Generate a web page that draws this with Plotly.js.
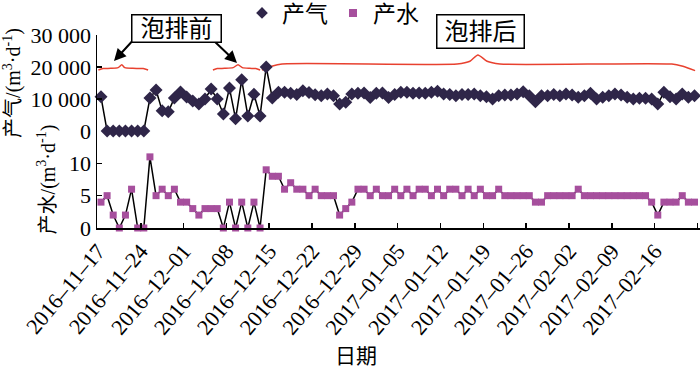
<!DOCTYPE html>
<html><head><meta charset="utf-8">
<script src="https://cdn.plot.ly/plotly-3.0.1.min.js"></script>
<style>html,body{margin:0;padding:0;background:#fff}#chart{width:700px;height:378px}</style>
</head><body><div id="chart"></div>
<script>
// daily series starting 2016-11-17
const startDate = [2016, 10, 17];
const gas = [10700, 0, 0, 0, 0, 0, 0, 0,
  10300, 12800, 6300, 6000, 10300, 12200, 10600, 9400, 8400, 10000, 13100, 10000, 5300, 13400, 3800, 16000, 4700, 11500, 4700, 20000, 10300,
  12100, 12100, 11800, 11400, 12600, 12000, 11300, 11000, 11600, 11000, 8400, 9000, 11600, 11800, 11900, 10500, 11800, 11900, 10500, 11400, 12100, 12100, 11800, 11900, 11800, 12100, 12400, 11600, 11400, 11000, 11400,
  11400, 11600, 11040, 10730, 10000, 11040, 11250, 11250, 11560, 12290, 11040, 9170, 11040, 11040, 11400, 11040, 11560, 11250, 10520, 11040, 11770, 10000, 10520, 11040, 11560, 11250, 10520, 10000, 10210, 10210, 10000, 8440, 12080, 10730, 10000, 11560, 10520, 11040];
const water = [4, 5, 2, 0, 2, 6, 0, 0, 11, 5,
  6, 5, 6, 4, 4, 3, 2, 3, 3, 3,
  0, 4, 0, 4, 0, 4, 0, 9, 8, 8,
  6, 7, 6, 6, 5, 6, 5, 5, 5, 2,
  3, 4, 6, 6, 5, 6, 5, 5, 6, 5,
  6, 5, 6, 6, 5, 6, 5, 6, 6, 5,
  6, 5, 6, 5, 5, 6, 5, 5, 5, 5,
  5, 4, 4, 5, 5, 5, 5, 5, 6, 5,
  5, 5, 5, 5, 5, 5, 5, 5, 5, 5,
  4, 2, 4, 4, 4, 5, 4, 4];
const gasTickVals = [0, 10000, 20000, 30000];
const gasTickText = ['0', '10 000', '20 000', '30 000'];
const waterTickVals = [0, 5, 10];
const waterTickText = ['0', '5', '10'];
// curly braces marking the periods (day offsets from start, values on gas axis)
const braceDays = [0.07, 0.83, 2.1, 3.3, 3.9, 4.4, 5.7, 7.4, 8.2, null,
  18.8, 19.5, 20.7, 22.1, 22.9, 23.6, 24.8, 25.8, 26.5, null,
  26.8, 28.4, 30.1, 58.7, 60.8, 62.1, 63.6, 65.7, 93.8, 95.6, 97.6];
const braceVals = [19040, 19510, 19580, 19800, 20700, 19800, 19580, 19510, 19040, null,
  19040, 19510, 19580, 19800, 20700, 19800, 19580, 19510, 19040, null,
  19040, 20210, 20940, 20940, 21790, 23780, 21790, 20940, 20940, 20210, 18880];

function dayToDate(d) {
  const t = Date.UTC(startDate[0], startDate[1], startDate[2]) + d * 86400000;
  return new Date(t).toISOString().slice(0, 19).replace('T', ' ');
}
const dates = gas.map((_, i) => dayToDate(i + 0.5));
const braceX = braceDays.map(d => d === null ? null : dayToDate(d));

const serif = "'Liberation Serif', 'Times New Roman', 'Noto Sans CJK SC', serif";
const gasColor = '#2f2649';
const waterColor = '#a64f9d';

const traces = [
  {x: braceX, y: braceVals, xaxis: 'x', yaxis: 'y', mode: 'lines', line: {color: '#e8412f', width: 1.5, shape: 'spline', smoothing: 0.6},
   connectgaps: false, showlegend: false, hoverinfo: 'skip', cliponaxis: false},
  {x: dates, y: gas, xaxis: 'x', yaxis: 'y', mode: 'lines+markers', name: '产气', showlegend: false,
   line: {color: '#000', width: 1.5}, marker: {symbol: 'diamond', size: 10, color: gasColor}, cliponaxis: false},
  {x: dates, y: water, xaxis: 'x', yaxis: 'y2', mode: 'lines+markers', name: '产水', showlegend: false,
   line: {color: '#000', width: 1.5}, marker: {symbol: 'square', size: 7, color: waterColor}, cliponaxis: false},
  {x: [null], y: [null], xaxis: 'x', yaxis: 'y', mode: 'markers', name: '产气', marker: {symbol: 'diamond', size: 9, color: gasColor}},
  {x: [null], y: [null], xaxis: 'x', yaxis: 'y', mode: 'markers', name: '产水', marker: {symbol: 'square', size: 8, color: waterColor}}
];

const L = 97, T = 35, W = 603, H = 193;
const px = v => (v - L) / W;
const py = v => (T + H - v) / H;

const arrowStyle = {xref: 'paper', yref: 'paper', text: '', font: {size: 6}, showarrow: true,
  arrowhead: 2, arrowsize: 1.2, arrowwidth: 2, arrowcolor: '#000'};

const layout = {
  width: 700, height: 378,
  margin: {l: L, r: 0, t: T, b: 150, autoexpand: false},
  paper_bgcolor: '#fff', plot_bgcolor: '#fff',
  font: {family: serif, color: '#000', size: 20},
  showlegend: true,
  legend: {orientation: 'h', x: px(242), y: py(13), xanchor: 'left', yanchor: 'middle',
           font: {family: serif, size: 23}, bgcolor: 'rgba(0,0,0,0)', itemwidth: 30},
  xaxis: {type: 'date', anchor: 'y2', range: [dayToDate(-0.15), dayToDate(98.4)],
    tick0: dayToDate(0), dtick: 7 * 86400000, tickformat: '%Y–%m–%d', tickangle: -50,
    ticks: 'inside', ticklen: 5, tickwidth: 1.5, tickcolor: '#000',
    showline: true, linecolor: '#000', linewidth: 1.5, showgrid: false, zeroline: false,
    tickfont: {family: serif, size: 22}},
  yaxis: {domain: [0.5026, 1], range: [0, 30000], anchor: 'x',
    tickvals: gasTickVals, ticktext: gasTickText,
    ticks: 'inside', ticklen: 5, tickwidth: 1.5, tickcolor: '#000',
    showline: true, linecolor: '#000', linewidth: 1.5, showgrid: false, zeroline: false,
    tickfont: {family: serif, size: 22},
    title: {text: '产气/(m<sup>3</sup>·d<sup>-1</sup>)', font: {family: serif, size: 20}, standoff: 4}},
  yaxis2: {domain: [0, 0.5026], range: [0, 15], anchor: 'x',
    tickvals: waterTickVals, ticktext: waterTickText,
    ticks: 'inside', ticklen: 5, tickwidth: 1.5, tickcolor: '#000',
    showline: true, linecolor: '#000', linewidth: 1.5, showgrid: false, zeroline: false,
    tickfont: {family: serif, size: 22},
    title: {text: '产水/(m<sup>3</sup>·d<sup>-1</sup>)', font: {family: serif, size: 20}, standoff: 8}},
  annotations: [
    Object.assign({x: px(114), y: py(61), ax: 22, ay: -24}, arrowStyle),
    Object.assign({x: px(237), y: py(63), ax: -26, ay: -25}, arrowStyle),
    {xref: 'paper', yref: 'paper', x: px(176), y: py(29), xanchor: 'center', yanchor: 'middle', text: '泡排前', showarrow: false,
     font: {family: serif, size: 24}, width: 86, height: 24, borderpad: 1, bordercolor: '#000', borderwidth: 1.5, bgcolor: '#fff'},
    {xref: 'paper', yref: 'paper', x: px(480), y: py(32), xanchor: 'center', yanchor: 'middle', text: '泡排后', showarrow: false,
     font: {family: serif, size: 24}, width: 84, height: 30, borderpad: 1, bordercolor: '#000', borderwidth: 1.5, bgcolor: '#fff'},
    {xref: 'paper', yref: 'paper', x: px(356), y: py(356), xanchor: 'center', yanchor: 'middle', text: '日期', showarrow: false,
     font: {family: serif, size: 21}}
  ]
};

Plotly.newPlot('chart', traces, layout, {staticPlot: true, displayModeBar: false});
</script>
</body></html>
